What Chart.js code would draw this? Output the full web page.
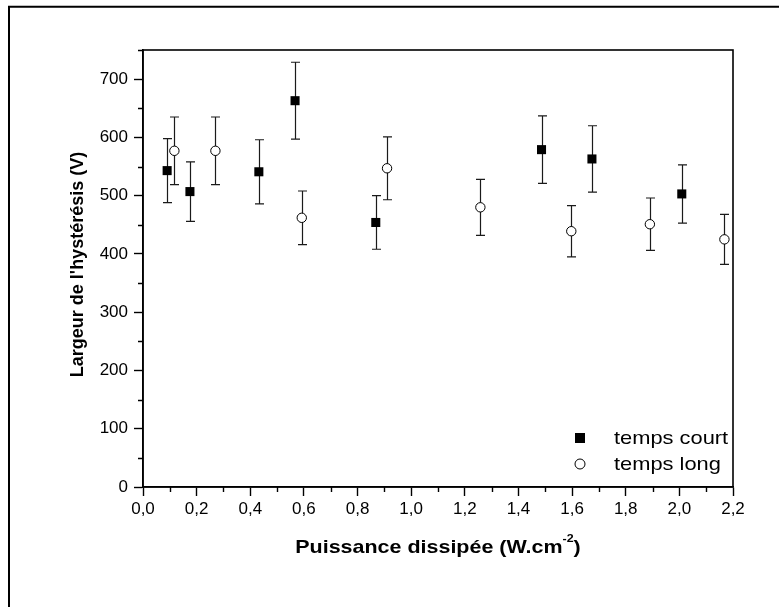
<!DOCTYPE html>
<html>
<head>
<meta charset="utf-8">
<script src="https://cdn.jsdelivr.net/npm/chart.js@4.4.1/dist/chart.umd.min.js"></script>
<style>
  html, body { margin: 0; padding: 0; background: #fff; }
  #wrap { width: 779px; height: 607px; }
</style>
</head>
<body>
<div id="wrap"><canvas id="hysteresisChart" width="779" height="607"></canvas></div>
<script>
// temps court (filled squares)
const courtX = [0.09, 0.175, 0.432, 0.567, 0.868, 1.486, 1.674, 2.009];
const courtY = [543, 507, 541, 663, 454, 579, 563, 503];
const courtErr = [55, 51, 55, 66, 46, 58, 57, 50];

// temps long (open circles)
const longX = [0.117, 0.27, 0.592, 0.91, 1.258, 1.597, 1.89, 2.168];
const longY = [577, 577, 462, 547, 480, 439, 451, 425];
const longErr = [58, 58, 46, 54, 48, 44, 45, 43];

const seriesLabels = ['temps court', 'temps long'];
const xTitle = 'Puissance dissipée (W.cm';
const xTitleSup = '-2';
const yTitle = "Largeur de l'hystérésis (V)";

const FONT = "'Liberation Sans', Arial, sans-serif";

function toPoints(xs, ys, errs) {
    return xs.map((x, i) => ({ x: x, y: ys[i], err: errs[i] }));
}

// draws text squeezed/stretched horizontally
function drawScaled(ctx, txt, x, y, sx) {
    ctx.save();
    ctx.translate(x, y);
    ctx.scale(sx, 1);
    ctx.fillText(txt, 0, 0);
    ctx.restore();
}

const decor = {
    id: 'decor',
    beforeDatasetsDraw(chart) {
        // error bars, drawn under the markers
        const ctx = chart.ctx;
        const xs = chart.scales.x, ys = chart.scales.y;
        ctx.save();
        ctx.strokeStyle = '#1a1a1a';
        ctx.lineWidth = 1.2;
        chart.data.datasets.forEach(ds => {
            ds.data.forEach(p => {
                const px = Math.round(xs.getPixelForValue(p.x)) + 0.5;
                const top = ys.getPixelForValue(p.y + p.err);
                const bot = ys.getPixelForValue(p.y - p.err);
                ctx.beginPath();
                ctx.moveTo(px, top);
                ctx.lineTo(px, bot);
                ctx.moveTo(px - 4.5, top);
                ctx.lineTo(px + 4.5, top);
                ctx.moveTo(px - 4.5, bot);
                ctx.lineTo(px + 4.5, bot);
                ctx.stroke();
            });
        });
        ctx.restore();
    },
    afterDraw(chart) {
        const ctx = chart.ctx;
        const area = chart.chartArea;
        const xs = chart.scales.x, ys = chart.scales.y;
        ctx.save();

        // outer frame (left and top only are visible)
        ctx.strokeStyle = '#000';
        ctx.lineWidth = 2;
        ctx.beginPath();
        ctx.moveTo(9, chart.height);
        ctx.lineTo(9, 6.7);
        ctx.lineTo(chart.width, 6.7);
        ctx.stroke();

        // plot box
        ctx.lineWidth = 1.6;
        ctx.strokeRect(area.left, area.top, area.right - area.left, area.bottom - area.top);

        // minor ticks
        ctx.lineWidth = 1.4;
        ctx.beginPath();
        for (let v = 50; v <= 750; v += 100) {
            const py = Math.round(ys.getPixelForValue(v)) + 0.5;
            ctx.moveTo(area.left, py);
            ctx.lineTo(area.left - 5, py);
        }
        for (let k = 1; k <= 21; k += 2) {
            const px = Math.round(xs.getPixelForValue(k / 10)) + 0.5;
            ctx.moveTo(px, area.bottom);
            ctx.lineTo(px, area.bottom + 5);
        }
        ctx.stroke();

        ctx.fillStyle = '#000';

        // x axis title with superscript
        const sx = 1.13;
        ctx.font = 'bold 19px ' + FONT;
        const w1 = ctx.measureText(xTitle).width;
        const w3 = ctx.measureText(')').width;
        ctx.font = 'bold 11px ' + FONT;
        const w2 = ctx.measureText(xTitleSup).width;
        const total = (w1 + w2 + w3) * sx;
        let tx = (area.left + area.right) / 2 - total / 2;
        const base = area.bottom + 66;
        ctx.textAlign = 'left';
        ctx.textBaseline = 'alphabetic';
        ctx.font = 'bold 19px ' + FONT;
        drawScaled(ctx, xTitle, tx, base, sx);
        tx += w1 * sx;
        ctx.font = 'bold 11px ' + FONT;
        drawScaled(ctx, xTitleSup, tx, base - 11, sx);
        tx += w2 * sx;
        ctx.font = 'bold 19px ' + FONT;
        drawScaled(ctx, ')', tx, base, sx);

        // y axis title
        ctx.save();
        ctx.translate(83, (area.top + area.bottom) / 2 - 4);
        ctx.rotate(-Math.PI / 2);
        ctx.font = 'bold 18px ' + FONT;
        ctx.textAlign = 'center';
        ctx.fillText(yTitle, 0, 0);
        ctx.restore();

        // legend, inside the plot at the lower right
        const lx = area.right - 153;
        const ly = [area.bottom - 49, area.bottom - 23];
        chart.data.datasets.forEach((ds, i) => {
            ctx.beginPath();
            if (ds.pointStyle === 'rect') {
                ctx.fillStyle = ds.pointBackgroundColor;
                ctx.fillRect(lx - 5, ly[i] - 5, 10, 10);
            } else {
                ctx.arc(lx, ly[i], 5, 0, Math.PI * 2);
                ctx.fillStyle = ds.pointBackgroundColor;
                ctx.fill();
                ctx.lineWidth = 1;
                ctx.strokeStyle = '#000';
                ctx.stroke();
            }
            ctx.fillStyle = '#000';
            ctx.font = '19px ' + FONT;
            ctx.textAlign = 'left';
            ctx.textBaseline = 'middle';
            drawScaled(ctx, ds.label, lx + 34, ly[i] + 1, 1.15);
        });

        ctx.restore();
    }
};

const ctx = document.getElementById('hysteresisChart').getContext('2d');

new Chart(ctx, {
    type: 'scatter',
    data: {
        datasets: [
            {
                label: seriesLabels[0],
                data: toPoints(courtX, courtY, courtErr),
                pointStyle: 'rect',
                pointRadius: 6.4,
                pointHoverRadius: 6.4,
                pointBackgroundColor: '#000',
                pointBorderColor: '#000',
                pointBorderWidth: 0,
                showLine: false
            },
            {
                label: seriesLabels[1],
                data: toPoints(longX, longY, longErr),
                pointStyle: 'circle',
                pointRadius: 4.7,
                pointHoverRadius: 4.7,
                pointBackgroundColor: '#fff',
                pointBorderColor: '#000',
                pointBorderWidth: 1,
                showLine: false
            }
        ]
    },
    options: {
        responsive: false,
        animation: false,
        devicePixelRatio: 1,
        layout: {
            padding: { top: 50, right: 46, left: 0, bottom: 0 }
        },
        plugins: {
            legend: { display: false },
            tooltip: { enabled: false }
        },
        scales: {
            x: {
                type: 'linear',
                min: 0,
                max: 2.2,
                afterFit: (scale) => { scale.height = 120; },
                border: { display: true, color: '#000', width: 1.6 },
                grid: {
                    drawOnChartArea: false,
                    drawTicks: true,
                    tickLength: 9,
                    color: '#000',
                    tickWidth: 1.4
                },
                ticks: {
                    stepSize: 0.2,
                    maxRotation: 0,
                    autoSkip: false,
                    padding: 3,
                    color: '#000',
                    font: { family: FONT, size: 17 },
                    callback: (v) => v.toFixed(1).replace('.', ',')
                }
            },
            y: {
                type: 'linear',
                min: 0,
                max: 750,
                afterFit: (scale) => { scale.width = 143; },
                border: { display: true, color: '#000', width: 1.6 },
                grid: {
                    drawOnChartArea: false,
                    drawTicks: true,
                    tickLength: 9,
                    color: '#000',
                    tickWidth: 1.4
                },
                ticks: {
                    stepSize: 100,
                    includeBounds: false,
                    padding: 6,
                    color: '#000',
                    font: { family: FONT, size: 17 }
                }
            }
        }
    },
    plugins: [decor]
});
</script>
</body>
</html>
